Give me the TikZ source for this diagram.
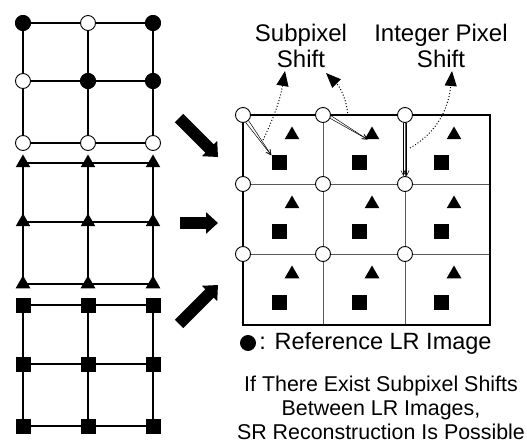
\documentclass[tikz,border=0pt]{standalone}
\usepackage{fontspec}
\setmainfont{Liberation Sans}
\usetikzlibrary{shapes.geometric,arrows.meta,positioning,calc}

\tikzset{
    gridline/.style={line width=1.1pt},
    innerline/.style={line width=0.7pt, black!65},
    lrcirc/.style={circle, draw, fill=white, line width=0.9pt, minimum size=15pt, inner sep=0pt},
    refcirc/.style={lrcirc, fill=black},
    lrtri/.style={regular polygon, regular polygon sides=3, fill=black, inner sep=0pt, minimum size=17pt},
    lrsq/.style={rectangle, fill=black, minimum size=15pt, inner sep=0pt},
    bigarrow/.style={line width=12pt, -{Triangle[length=12pt,width=21pt]}},
    shiftarrow/.style={line width=0.5pt, -{Straight Barb[length=5pt,width=5pt]}},
    dotarrow/.style={dotted, line width=1pt, -{Triangle[length=15pt,width=12pt]}},
    label/.style={font=\fontsize{24}{26}\selectfont, align=center},
}

\begin{document}
\begin{tikzpicture}[x=1pt, y=-1pt]
    \useasboundingbox (0,0) rectangle (527,446);

    % three low-resolution grids on the left
    \foreach \c/\x in {1/23,2/88,3/153} {
        \foreach \r/\y in {1/23,2/81,3/143} \coordinate (o\r\c) at (\x,\y);
        \foreach \r/\y in {1/163,2/222,3/284} \coordinate (t\r\c) at (\x,\y);
        \foreach \r/\y in {1/305,2/364,3/426} \coordinate (q\r\c) at (\x,\y);
    }
    \foreach \g in {o,t,q} {
        \foreach \i in {1,2,3} {
            \draw[gridline] (\g\i1) -- (\g\i3);
            \draw[gridline] (\g1\i) -- (\g3\i);
        }
    }
    \foreach \r in {1,2,3} {
        \foreach \c in {1,2,3} {
            \node[lrcirc] (oc\r\c) at (o\r\c) {};
            \node[lrtri] (tc\r\c) at (t\r\c) {};
            \node[lrsq] (qc\r\c) at (q\r\c) {};
        }
    }
    \foreach \p in {11,13,22,23} \node[refcirc] (ref\p) at (o\p) {};

    % block arrows into the fused grid
    \coordinate (a1s) at (179,118); \coordinate (a1e) at (218,157);
    \coordinate (a2s) at (180,223); \coordinate (a2e) at (218,223);
    \coordinate (a3s) at (179,324); \coordinate (a3e) at (218,285);
    \draw[bigarrow] (a1s) -- (a1e);
    \draw[bigarrow] (a2s) -- (a2e);
    \draw[bigarrow] (a3s) -- (a3e);

    % fused grid
    \foreach \c/\x in {1/243,2/323,3/405,4/490}
        \foreach \r/\y in {1/115,2/184,3/254,4/325} \coordinate (g\r\c) at (\x,\y);
    \foreach \i in {2,3} {
        \draw[innerline] (g\i1) -- (g\i4);
        \draw[innerline] (g1\i) -- (g4\i);
    }
    \draw[gridline] (g11) -- (g14) -- (g44) -- (g41) -- cycle;

    \foreach \r/\y in {1/115,2/184,3/254} {
        \foreach \c/\x in {1/243,2/323,3/405} {
            \node[lrtri] (ft\r\c) at (\x+49,\y+20) {};
            \node[lrsq] (fq\r\c) at (\x+36,\y+48) {};
            \node[lrcirc] (fc\r\c) at (\x,\y) {};
        }
    }

    % shifts from the reference points
    \draw[shiftarrow] (fc11.-70) -- (fq11.north west);
    \draw[shiftarrow] (fc11.-45) -- (fq11.north west);
    \draw[shiftarrow] (fc12.-25) -- (ft12.south west);
    \draw[shiftarrow] (fc12.-5) -- (ft12.south west);
    \draw[shiftarrow] ([xshift=-1.6pt]fc13.south) -- ([xshift=-1.6pt]fc23.north);
    \draw[shiftarrow] ([xshift=1.6pt]fc13.south) -- ([xshift=1.6pt]fc23.north);

    % labels and their pointers
    \node[label] (sub) at (301,46) {Subpixel\\Shift};
    \node[label] (int) at (441,46) {Integer Pixel\\Shift};
    \coordinate (d1s) at (263,140); \coordinate (d1e) at (285,71);
    \coordinate (d2s) at (348,116); \coordinate (d2e) at (326,73);
    \coordinate (d3s) at (410,148); \coordinate (d3e) at (452,71);
    \draw[dotarrow] (d1s) to[bend right=8] (d1e);
    \draw[dotarrow] (d2s) to[out=95, in=-45] (d2e);
    \draw[dotarrow] (d3s) to[out=30, in=-95] (d3e);

    % legend and conclusion
    \node[refcirc] (leg) at (248,343) {};
    \node[font=\fontsize{23.5}{26}\selectfont, right=0pt of leg] (legtext) {: Reference LR Image};
    \node[font=\fontsize{21.4}{24}\selectfont, align=center] (concl) at (381,408)
        {If There Exist Subpixel Shifts\\Between LR Images,\\SR Reconstruction Is Possible};
\end{tikzpicture}
\end{document}
